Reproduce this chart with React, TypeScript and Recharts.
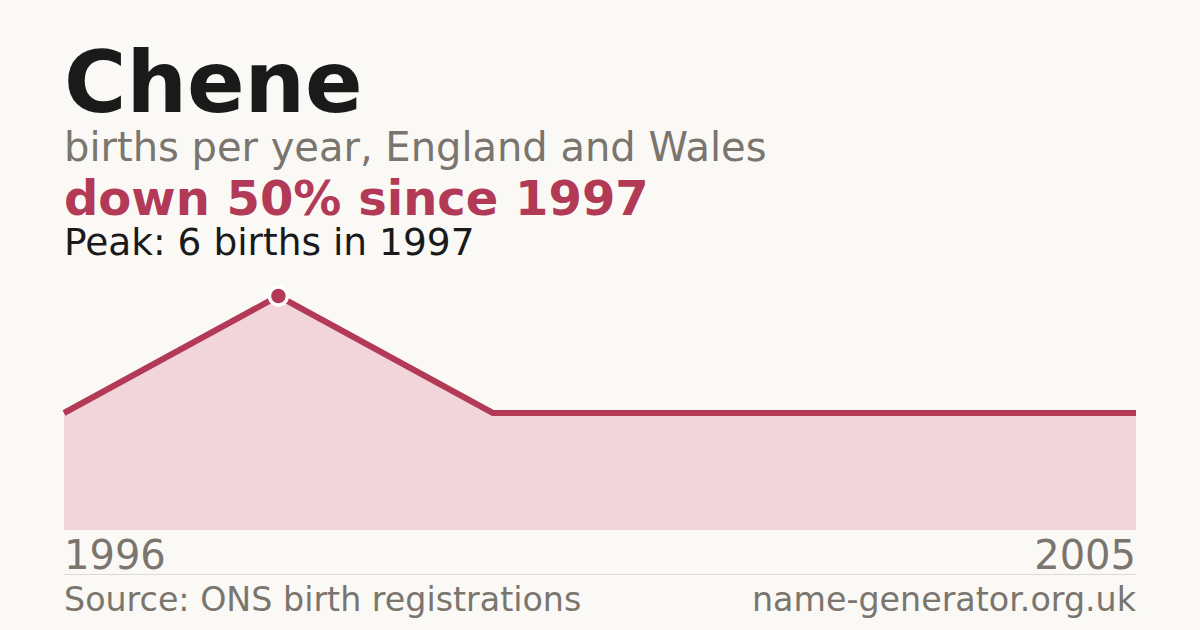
import { AreaChart, Area, XAxis, YAxis } from 'recharts'

const years = ['1996', '1997', '1998', '2000', '2002', '2005']
const births = [3, 6, 3, 3, 3, 3]
const axisLabels = ['1996', '2005']

const data = years.map((year, i) => ({ year, births: births[i] }))
const peakIndex = births.indexOf(Math.max(...births))

const FONT = '"DejaVu Sans", Verdana, sans-serif'
const BG = '#faf9f5'
const CRIMSON = '#b23a56'
const GREY = '#7a756e'

// plot bottom sits at chart y=254 (page 530); labels have their baseline 39px below
const EdgeTick = (props: any) => {
  const { x, index } = props
  const last = index === years.length - 1
  if (index !== 0 && !last) return <g />
  return (
    <text
      x={x}
      y={254 + 39}
      textAnchor={last ? 'end' : 'start'}
      fill={GREY}
      fontSize={40}
      fontFamily={FONT}
    >
      {last ? axisLabels[1] : axisLabels[0]}
    </text>
  )
}

const PeakDot = (props: any) => {
  const { cx, cy, index } = props
  if (index !== peakIndex) return <g key={index} />
  return <circle key={index} cx={cx} cy={cy} r={9} fill={CRIMSON} stroke="#ffffff" strokeWidth={3.5} />
}

export default function App() {
  return (
    <div style={{ position: 'absolute', left: 0, top: 0, width: 1200, height: 630, background: BG, overflow: 'hidden' }}>
      <svg width={1200} height={630} style={{ position: 'absolute', left: 0, top: 0 }}>
        <text x={64} y={112} fontSize={85} fontWeight="bold" fill="#1a1a1a" fontFamily={FONT}>Chene</text>
        <text x={64} y={161} fontSize={40} fill={GREY} fontFamily={FONT}>births per year, England and Wales</text>
        <text x={64} y={215} fontSize={48} fontWeight="bold" fill={CRIMSON} fontFamily={FONT}>down 50% since 1997</text>
        <text x={64} y={255} fontSize={37.5} fill="#1a1a1a" fontFamily={FONT}>Peak: 6 births in 1997</text>
        <line x1={64} x2={1136} y1={574.5} y2={574.5} stroke="#dedbd4" strokeWidth={1} />
        <text x={64} y={611} fontSize={33.3} fill={GREY} fontFamily={FONT}>Source: ONS birth registrations</text>
        <text x={1136} y={611} fontSize={33.3} fill={GREY} fontFamily={FONT} textAnchor="end">name-generator.org.uk</text>
      </svg>
      <div style={{ position: 'absolute', left: 44, top: 276 }}>
        <AreaChart width={1112} height={330} data={data} margin={{ top: 20, right: 20, left: 20, bottom: 0 }}>
          <XAxis
            dataKey="year"
            axisLine={false}
            tickLine={false}
            interval={0}
            tick={(p: any) => <EdgeTick {...p} />}
            height={76}
          />
          <YAxis hide domain={[0, 6]} width={0} />
          <Area
            type="linear"
            dataKey="births"
            stroke={CRIMSON}
            strokeWidth={6}
            fill="#f2d5db"
            fillOpacity={1}
            dot={(p: any) => <PeakDot {...p} />}
            activeDot={false}
            isAnimationActive={false}
          />
        </AreaChart>
      </div>
    </div>
  )
}
